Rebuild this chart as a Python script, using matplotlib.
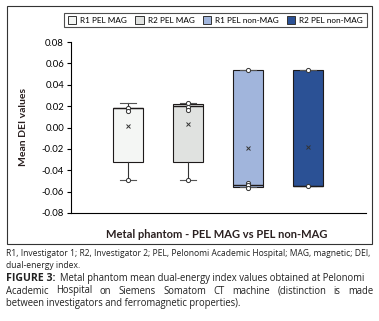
import matplotlib as mpl
mpl.use('Agg')
import matplotlib.pyplot as plt
from matplotlib.patches import Rectangle, Patch

# Data
series = ['R1 PEL MAG', 'R2 PEL MAG', 'R1 PEL non-MAG', 'R2 PEL non-MAG']
colors = ['#F4F6F4', '#E0E2E0', '#A1B5DC', '#2B5195']
whislo = [-0.049, -0.049, -0.056, -0.055]
q1 = [-0.032, -0.032, -0.056, -0.055]
med = [0.018, 0.020, -0.054, -0.055]
q3 = [0.018, 0.022, 0.054, 0.054]
whishi = [0.023, 0.023, 0.054, 0.054]
means = [0.0015, 0.003, -0.019, -0.018]
points = [[0.018, 0.015, -0.049],
          [0.023, 0.0195, 0.016, -0.049],
          [0.054, -0.052, -0.054, -0.057],
          [0.054, -0.055]]
yticks = [-0.08, -0.06, -0.04, -0.02, 0.00, 0.02, 0.04, 0.06, 0.08]
xlabel = 'Metal phantom - PEL MAG vs PEL non-MAG'
ylabel = 'Mean DEI values'
note = ['R1, Investigator 1; R2, Investigator 2; PEL, Pelonomi Academic Hospital; MAG, magnetic; DEI,',
        'dual-energy index.']
cap_head = 'FIGURE 3:'
caption = ['Metal phantom mean dual-energy index values obtained at Pelonomi',
           'Academic Hospital on Siemens Somatom CT machine (distinction is made',
           'between investigators and ferromagnetic properties).']

W, H = 379, 321
plt.rcParams['font.family'] = ['Lato', 'DejaVu Sans']
fg = plt.figure(figsize=(W / 100, H / 100), dpi=100)
cap_font = ['Open Sans', 'DejaVu Sans']
renderer = fg.canvas.get_renderer()


def fit_size(line, x0, x1, base=6.0, weight='normal'):
  # font size for which the line naturally spans x0..x1 (pixels)
  t = fg.text(0, 0, line, fontsize=base, family=cap_font, fontweight=weight)
  w = t.get_window_extent(renderer).width
  t.remove()
  return base * (x1 - x0) / w


def plain(line, x, y, size, weight='normal'):
  fg.text(x / W, 1 - y / H, line, ha='left', va='baseline', fontsize=size,
          family=cap_font, color='#222222', fontweight=weight)


def justified(line, x0, x1, y, size):
  # words spread so the line fills x0..x1 (pixels)
  ts = [fg.text(0, 1 - y / H, w, ha='left', va='baseline', fontsize=size,
                family=cap_font, color='#222222') for w in line.split(' ')]
  widths = [t.get_window_extent(renderer).width for t in ts]
  gap = (x1 - x0 - sum(widths)) / max(len(ts) - 1, 1)
  x = x0
  for t, w in zip(ts, widths):
    t.set_x(x / W)
    x += w + gap


# outer chart frame
fg.patches.append(Rectangle((7 / W, 1 - 244 / H), 365 / W, 238 / H,
                            transform=fg.transFigure, fill=False,
                            edgecolor='#333333', lw=0.8))

ax = fg.add_axes([71 / W, 1 - 213 / H, 295 / W, 171 / H])

stats = []
for i in range(4):
  stats.append(dict(whislo=whislo[i], q1=q1[i], med=med[i], q3=q3[i],
                    whishi=whishi[i], mean=means[i], fliers=[]))
pos = [1, 2, 3, 4]
bp = ax.bxp(stats, positions=pos, widths=0.51, patch_artist=True,
            showmeans=True, showcaps=True,
            boxprops=dict(edgecolor='#1E1A1A', linewidth=0.8),
            medianprops=dict(color='#1E1A1A', linewidth=1.0),
            whiskerprops=dict(color='#333333', linewidth=0.8),
            capprops=dict(color='#555555', linewidth=0.8),
            meanprops=dict(marker='x', markeredgecolor='#333333', markersize=3.2,
                           markeredgewidth=0.7))
for b, c in zip(bp['boxes'], colors):
  b.set_facecolor(c)
for c, p in zip(bp['caps'], [v for v in pos for _ in range(2)]):
  c.set_xdata([p - 0.13, p + 0.13])

for p, pts in zip(pos, points):
  ax.scatter([p] * len(pts), pts, s=9, facecolor='white', edgecolor='#333333',
             linewidth=0.7, zorder=5)

ax.set_xlim(0.05, 4.97)
ax.set_ylim(-0.08, 0.08)
ax.set_yticks(yticks)
ax.set_yticklabels(['{0:.2f}'.format(v) for v in yticks], fontsize=6.8)
ax.set_xticks([])
ax.spines['top'].set_visible(False)
ax.spines['right'].set_visible(False)
ax.spines['left'].set_linewidth(0.8)
ax.spines['bottom'].set_linewidth(0.8)
ax.tick_params(axis='y', length=3, width=0.8, pad=2)
ax.set_ylabel(ylabel, fontsize=7.5, fontweight='bold', labelpad=10, color='#2A2020')

fg.text(217 / W, 1 - 235 / H, xlabel, ha='center', va='center',
        fontsize=8, fontweight='bold', color='#2A2020')

# legend
handles = [Patch(facecolor=c, edgecolor='#333333', linewidth=0.7) for c in colors]
leg = fg.legend(handles, series, ncol=4, loc='center',
                bbox_to_anchor=(215.5 / W, 1 - 20 / H), fontsize=5.9,
                frameon=True, fancybox=False, edgecolor='#222222',
                handlelength=1.0, handleheight=1.0, handletextpad=0.5,
                columnspacing=1.0, borderpad=0.45)
leg.get_frame().set_linewidth(0.8)

# notes and caption
s_note = fit_size(note[0], 6, 373) * 0.995
s_cap = fit_size(caption[0], 60, 373) * 0.99
s_head = min(fit_size(cap_head, 6, 56, weight='bold'), s_cap * 1.1)
plain(note[0], 6, 256.5, s_note)
plain(note[1], 6, 268.5, s_note)
plain(cap_head, 6, 281, s_head, weight='bold')
plain(caption[0], 60, 281, s_cap)
justified(caption[1], 6, 373, 293.5, s_cap)
plain(caption[2], 6, 306, s_cap)

fg.savefig('out.png', dpi=100)
